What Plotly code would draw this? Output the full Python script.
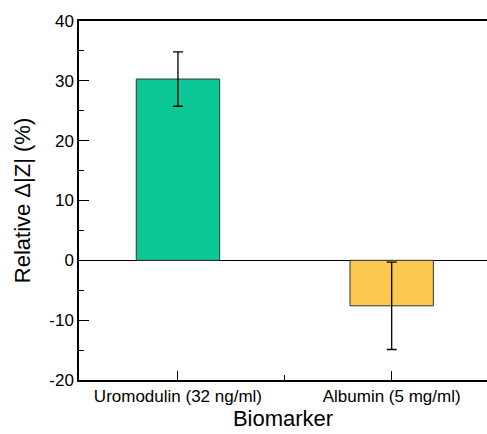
import plotly.graph_objects as go

categories = ["Uromodulin (32 ng/ml)", "Albumin (5 mg/ml)"]
values = [30.3, -7.6]
errors = [4.55, 7.3]
colors = ["#0BC996", "#FCC850"]
y_ticks = [-20, -10, 0, 10, 20, 30, 40]
y_tick_text = [str(v) for v in y_ticks]

x_pos = list(range(len(categories)))

fig = go.Figure()
fig.add_trace(go.Bar(
    x=x_pos, y=values, width=0.39,
    marker=dict(color=colors, line=dict(color="#333333", width=1)),
    error_y=dict(type="data", array=errors, visible=True, color="black",
                 thickness=1.3, width=5),
    showlegend=False,
))

font_family = "Arial, Liberation Sans, sans-serif"
fig.update_layout(
    width=487, height=434,
    margin=dict(l=79, r=0, t=21, b=54),
    paper_bgcolor="white", plot_bgcolor="white",
    font=dict(family=font_family, color="black", size=17),
    xaxis=dict(
        range=[-0.463, 1.446],
        tickmode="array", tickvals=x_pos, ticktext=categories,
        ticks="inside", ticklen=9, tickwidth=1.3, tickcolor="black",
        minor=dict(tickmode="array", tickvals=[0.5], ticks="inside",
                   ticklen=5, tickwidth=1.3, tickcolor="black"),
        showline=True, linecolor="black", linewidth=1.5, mirror=True,
        showgrid=False, zeroline=False,
        tickfont=dict(size=17),
        title=dict(text="Biomarker", font=dict(size=22), standoff=3),
    ),
    yaxis=dict(
        range=[-20, 40],
        tickmode="array", tickvals=y_ticks, ticktext=y_tick_text,
        ticks="inside", ticklen=10, tickwidth=1.3, tickcolor="black",
        minor=dict(dtick=5, tick0=0, ticks="inside", ticklen=5,
                   tickwidth=1.3, tickcolor="black"),
        showline=True, linecolor="black", linewidth=1.5, mirror=False,
        showgrid=False,
        zeroline=True, zerolinecolor="black", zerolinewidth=1.3,
        tickfont=dict(size=17),
        title=dict(text="Relative \u0394|Z| (%)", font=dict(size=22), standoff=13),
    ),
)

fig.write_html("out.html")
